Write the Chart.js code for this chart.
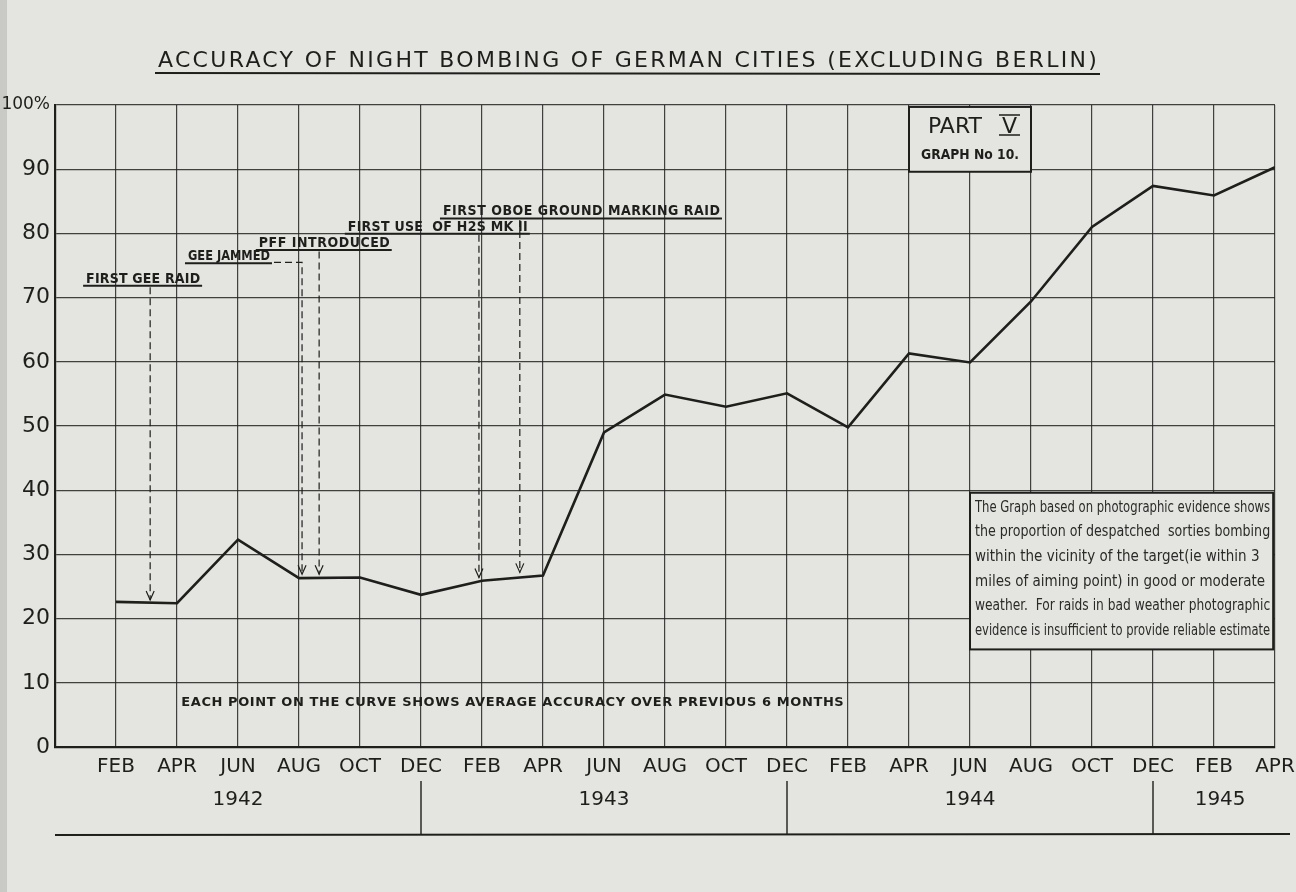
<!DOCTYPE html>
<html>
<head>
<meta charset="utf-8">
<title>Accuracy of night bombing</title>
<script src="https://cdn.jsdelivr.net/npm/chart.js@4.4.1/dist/chart.umd.min.js"></script>
<style>
  html, body { margin: 0; padding: 0; background: #e4e5e1; }
  #wrap { width: 1296px; height: 892px; }
</style>
</head>
<body>
<div id="wrap"><canvas id="accChart" width="1296" height="892"></canvas></div>
<script>
// --- data ---
const months = ["FEB", "APR", "JUN", "AUG", "OCT", "DEC", "FEB", "APR", "JUN", "AUG", "OCT", "DEC",
	"FEB", "APR", "JUN", "AUG", "OCT", "DEC", "FEB", "APR"];
const accuracy = [22.6, 22.4, 32.3, 26.3, 26.4, 23.7, 25.9, 26.7, 49.0, 54.9, 53.0, 55.1,
	49.8, 61.3, 59.9, 69.4, 81.0, 87.4, 85.9, 90.3];
const yearLabels = ["1942", "1943", "1944", "1945"];
const eventLabels = ["FIRST GEE RAID", "GEE JAMMED", "PFF INTRODUCED", "FIRST USE  OF H2S MK II", "FIRST OBOE GROUND MARKING RAID"];
const chartTitle = "ACCURACY OF NIGHT BOMBING OF GERMAN CITIES (EXCLUDING BERLIN)";
const footNote = "EACH POINT ON THE CURVE SHOWS AVERAGE ACCURACY OVER PREVIOUS 6 MONTHS";
const noteLines = [
	"The Graph based on photographic evidence shows",
	"the proportion of despatched  sorties bombing",
	"within the vicinity of the target(ie within 3",
	"miles of aiming point) in good or moderate",
	"weather.  For raids in bad weather photographic",
	"evidence is insufficient to provide reliable estimate",
];

// --- where the extras sit (x in month slots, y in percent) ---
const eventLayout = [
	{ tx: 0.51, ty: 72.3, tw: 114, ax: 1.56, top: 71.6, tip: 22.9 },
	{ tx: 2.18, ty: 75.8, tw: 82, ax: 4.05, top: 75.5, tip: 26.9, elbow: true },
	{ tx: 3.34, ty: 77.9, tw: 131, ax: 4.33, top: 77.2, tip: 26.9 },
	{ tx: 4.80, ty: 80.4, tw: 180, ax: 6.95, top: 79.8, tip: 26.4 },
	{ tx: 6.36, ty: 82.8, tw: 277, ax: 7.62, top: 82.1, tip: 27.2 },
];
const yearCentres = [3, 9, 15, 19.1];
const yearBreaks = [6, 12, 18];

const INK = "#1e1e1c";
const PAPER = "#e4e5e1";
const SANS = "'DejaVu Sans', sans-serif";
const COND = "'DejaVu Sans Condensed', 'DejaVu Sans', sans-serif";

function spaced(ctx, text, left, y, width) {
	ctx.save();
	ctx.textAlign = "left";
	ctx.letterSpacing = "0px";
	const w = ctx.measureText(text).width;
	if (w < width) {
		ctx.letterSpacing = ((width - w) / (text.length - 1)).toFixed(2) + "px";
		ctx.fillText(text, left, y);
	} else {
		ctx.fillText(text, left, y, width);
	}
	ctx.restore();
}

function arrowHead(ctx, x, y) {
	ctx.save();
	ctx.setLineDash([]);
	ctx.beginPath();
	ctx.moveTo(x - 4, y - 9);
	ctx.lineTo(x, y);
	ctx.lineTo(x + 4, y - 9);
	ctx.stroke();
	ctx.restore();
}

const paperPlugin = {
	id: "paper",
	beforeDraw(chart) {
		const ctx = chart.ctx;
		ctx.save();
		ctx.fillStyle = PAPER;
		ctx.fillRect(0, 0, chart.width, chart.height);
		ctx.fillStyle = "#c9cac6";
		ctx.fillRect(0, 0, 7, chart.height);
		ctx.restore();
	},
	beforeDatasetsDraw(chart) {
		const ctx = chart.ctx;
		const xs = chart.scales.x, ys = chart.scales.y;
		ctx.save();
		ctx.strokeStyle = INK;
		ctx.fillStyle = PAPER;
		ctx.lineWidth = 2;

		// PART V box
		let l = xs.getPixelForValue(14), r = xs.getPixelForValue(16);
		let t = ys.getPixelForValue(99.7), b = ys.getPixelForValue(89.6);
		ctx.fillRect(l, t, r - l, b - t);
		ctx.strokeRect(l, t, r - l, b - t);
		ctx.fillStyle = INK;
		ctx.textBaseline = "alphabetic";
		ctx.font = "22px " + SANS;
		ctx.fillText("PART", l + 19, t + 26);
		ctx.fillText("V", l + 93, t + 26);
		ctx.lineWidth = 1.6;
		ctx.beginPath();
		ctx.moveTo(l + 90, t + 8); ctx.lineTo(l + 111, t + 8);
		ctx.moveTo(l + 90, t + 28); ctx.lineTo(l + 111, t + 28);
		ctx.stroke();
		ctx.font = "bold 14px " + SANS;
		spaced(ctx, "GRAPH No 10.", l + 12, t + 52, 98);

		// explanatory note box
		ctx.fillStyle = PAPER;
		ctx.lineWidth = 2;
		l = xs.getPixelForValue(15.0); r = xs.getPixelForValue(19.97);
		t = ys.getPixelForValue(39.6); b = ys.getPixelForValue(15.2);
		ctx.fillRect(l, t, r - l, b - t);
		ctx.strokeRect(l, t, r - l, b - t);
		ctx.fillStyle = "#2a2a28";
		ctx.font = "15px " + COND;
		noteLines.forEach((line, i) => {
			ctx.fillText(line, l + 5, t + 19 + i * 24.6, r - l - 8);
		});
		ctx.restore();
	},
	afterDatasetsDraw(chart) {
		const ctx = chart.ctx;
		const xs = chart.scales.x, ys = chart.scales.y;
		ctx.save();
		ctx.fillStyle = INK;
		ctx.strokeStyle = INK;
		ctx.font = "bold 14px " + COND;
		ctx.textBaseline = "alphabetic";
		eventLayout.forEach((ev, i) => {
			const tx = xs.getPixelForValue(ev.tx), ty = ys.getPixelForValue(ev.ty);
			spaced(ctx, eventLabels[i], tx, ty, ev.tw);
			// underline
			ctx.lineWidth = 2;
			ctx.setLineDash([]);
			ctx.beginPath();
			ctx.moveTo(tx - 3, ty + 3);
			ctx.lineTo(tx + ev.tw + 2, ty + 3);
			ctx.stroke();
			// dashed pointer
			const ax = xs.getPixelForValue(ev.ax);
			const top = ys.getPixelForValue(ev.top), tip = ys.getPixelForValue(ev.tip);
			ctx.lineWidth = 1.2;
			ctx.setLineDash([7, 4]);
			ctx.beginPath();
			if (ev.elbow) {
				ctx.moveTo(tx + ev.tw + 4, top);
				ctx.lineTo(ax, top);
			} else {
				ctx.moveTo(ax, top);
			}
			ctx.lineTo(ax, tip);
			ctx.stroke();
			arrowHead(ctx, ax, tip);
		});

		// footnote inside the plot
		ctx.font = "bold 13px " + SANS;
		const fl = xs.getPixelForValue(2.07), fr = xs.getPixelForValue(12.93);
		ctx.textBaseline = "middle";
		spaced(ctx, footNote, fl, ys.getPixelForValue(6.9), fr - fl);
		ctx.restore();
	},
	afterDraw(chart) {
		const ctx = chart.ctx;
		const xs = chart.scales.x;
		const area = chart.chartArea;
		ctx.save();
		ctx.fillStyle = INK;
		ctx.strokeStyle = INK;

		// title with underline
		ctx.font = "22px " + SANS;
		ctx.textBaseline = "alphabetic";
		spaced(ctx, chartTitle, 158, 67, 939);
		ctx.lineWidth = 2;
		ctx.beginPath();
		ctx.moveTo(155, 73);
		ctx.lineTo(1100, 74);
		ctx.stroke();

		// year band below the month labels
		const lineY = area.bottom + 88;
		ctx.lineWidth = 2;
		ctx.beginPath();
		ctx.moveTo(area.left, lineY);
		ctx.lineTo(chart.width - 6, lineY - 1);
		ctx.stroke();
		ctx.lineWidth = 1.4;
		yearBreaks.forEach(v => {
			const x = xs.getPixelForValue(v);
			ctx.beginPath();
			ctx.moveTo(x, area.bottom + 34);
			ctx.lineTo(x, lineY);
			ctx.stroke();
		});
		ctx.font = "20px " + SANS;
		ctx.textAlign = "center";
		ctx.textBaseline = "middle";
		yearLabels.forEach((yr, i) => {
			ctx.fillText(yr, xs.getPixelForValue(yearCentres[i]), area.bottom + 53);
		});
		ctx.restore();
	},
};

const ctx = document.getElementById("accChart");
const accChart = new Chart(ctx, {
	type: "line",
	data: {
		datasets: [
			{
				label: "Accuracy",
				data: accuracy.map((v, i) => ({ x: i + 1, y: v })),
				borderColor: INK,
				borderWidth: 2.6,
				pointRadius: 0,
				tension: 0,
				fill: false,
			},
		],
	},
	options: {
		responsive: false,
		animation: false,
		layout: {
			padding: { top: 105, right: 21, left: 0, bottom: 0 },
		},
		plugins: {
			legend: { display: false },
			tooltip: { enabled: false },
		},
		scales: {
			x: {
				type: "linear",
				min: 0,
				max: 20,
				afterFit(scale) {
					scale.height = 145;
					scale.paddingLeft = 0;
					scale.paddingRight = 0;
				},
				ticks: {
					stepSize: 1,
					autoSkip: false,
					maxRotation: 0,
					padding: 8,
					color: INK,
					font: { family: SANS, size: 20 },
					callback: (v) => (v >= 1 ? months[v - 1] : ""),
				},
				grid: { color: "rgba(35,35,33,0.85)", lineWidth: 1.2, drawTicks: false },
				border: { color: INK, width: 2.2 },
			},
			y: {
				min: 0,
				max: 100,
				afterFit(scale) {
					scale.width = 55;
					scale.paddingTop = 0;
				},
				ticks: {
					stepSize: 10,
					padding: 5,
					color: INK,
					font: (c) => ({ family: SANS, size: c.tick && c.tick.value === 100 ? 17 : 22 }),
					callback: (v) => (v === 100 ? "100%" : v),
				},
				grid: { color: "rgba(35,35,33,0.85)", lineWidth: 1.2, drawTicks: false },
				border: { color: INK, width: 2.2 },
			},
		},
	},
	plugins: [paperPlugin],
});
</script>
</body>
</html>
